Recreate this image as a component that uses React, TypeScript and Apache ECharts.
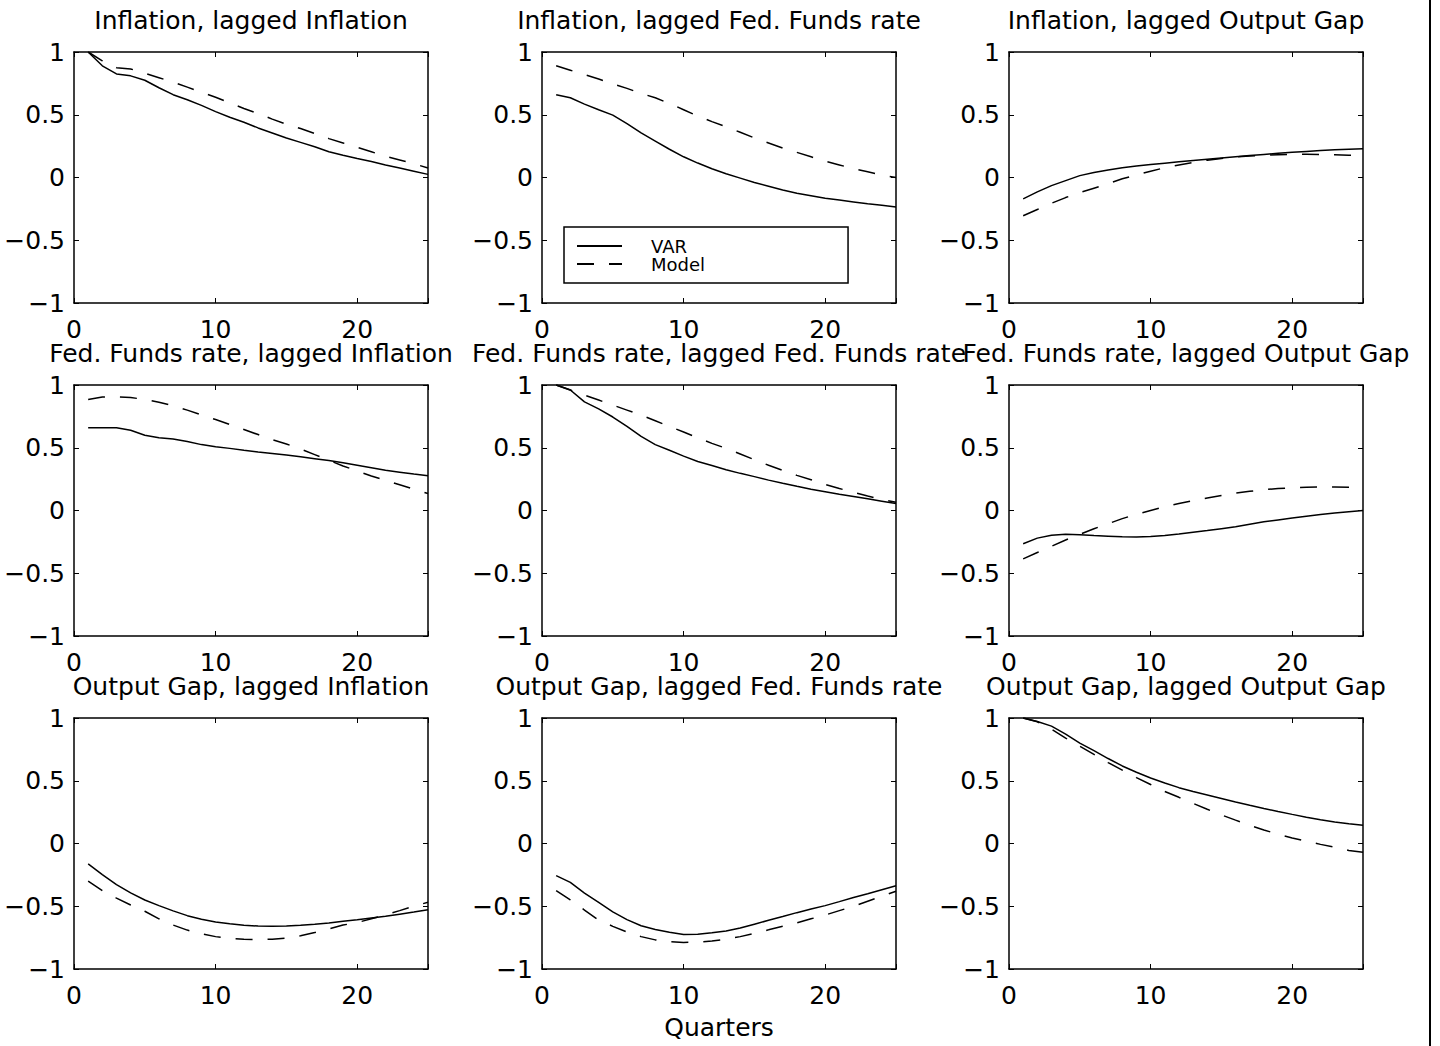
import React, { useEffect, useRef } from 'react';
import * as echarts from 'echarts';

const FONT = 'DejaVu Sans';

const QUARTERS = [1, 2, 3, 4, 5, 6, 7, 8, 9, 10, 11, 12, 13, 14, 15, 16, 17, 18, 19, 20, 21, 22, 23, 24, 25];

const TITLES = [
  'Inflation, lagged Inflation',
  'Inflation, lagged Fed. Funds rate',
  'Inflation, lagged Output Gap',
  'Fed. Funds rate, lagged Inflation',
  'Fed. Funds rate, lagged Fed. Funds rate',
  'Fed. Funds rate, lagged Output Gap',
  'Output Gap, lagged Inflation',
  'Output Gap, lagged Fed. Funds rate',
  'Output Gap, lagged Output Gap',
];

const X_TICKS = [0, 10, 20];
const Y_TICKS = [-1, -0.5, 0, 0.5, 1];

// Inflation, lagged Inflation
const VAR_INF_INF = [1.0, 0.89, 0.825, 0.81, 0.775, 0.715, 0.66, 0.62, 0.575, 0.525, 0.48, 0.44, 0.395, 0.355, 0.315, 0.28, 0.245, 0.205, 0.178, 0.152, 0.127, 0.1, 0.075, 0.05, 0.025];
const MODEL_INF_INF = [1.0, 0.93, 0.875, 0.865, 0.83, 0.795, 0.76, 0.72, 0.68, 0.64, 0.595, 0.55, 0.51, 0.465, 0.425, 0.39, 0.35, 0.31, 0.275, 0.24, 0.205, 0.17, 0.14, 0.11, 0.075];
// Inflation, lagged Fed. Funds rate
const VAR_INF_FFR = [0.66, 0.635, 0.585, 0.54, 0.497, 0.43, 0.355, 0.29, 0.225, 0.165, 0.115, 0.07, 0.03, -0.005, -0.04, -0.07, -0.1, -0.125, -0.145, -0.165, -0.18, -0.195, -0.21, -0.222, -0.235];
const MODEL_INF_FFR = [0.89, 0.855, 0.82, 0.785, 0.745, 0.71, 0.67, 0.635, 0.59, 0.54, 0.49, 0.445, 0.405, 0.36, 0.315, 0.275, 0.235, 0.2, 0.165, 0.13, 0.1, 0.07, 0.045, 0.02, 0.0];
// Inflation, lagged Output Gap
const VAR_INF_OG = [-0.17, -0.115, -0.065, -0.025, 0.015, 0.04, 0.06, 0.078, 0.092, 0.103, 0.114, 0.125, 0.135, 0.145, 0.155, 0.165, 0.175, 0.184, 0.193, 0.201, 0.208, 0.215, 0.221, 0.226, 0.23];
const MODEL_INF_OG = [-0.305, -0.255, -0.205, -0.16, -0.12, -0.085, -0.05, -0.01, 0.02, 0.05, 0.078, 0.1, 0.12, 0.138, 0.152, 0.163, 0.172, 0.178, 0.182, 0.185, 0.185, 0.183, 0.181, 0.178, 0.175];
// Fed. Funds rate, lagged Inflation
const VAR_FFR_INF = [0.66, 0.66, 0.66, 0.64, 0.6, 0.58, 0.57, 0.55, 0.525, 0.508, 0.495, 0.48, 0.467, 0.455, 0.442, 0.428, 0.413, 0.398, 0.38, 0.36, 0.34, 0.32, 0.305, 0.29, 0.276];
const MODEL_FFR_INF = [0.885, 0.905, 0.905, 0.9, 0.885, 0.862, 0.835, 0.8, 0.762, 0.725, 0.685, 0.645, 0.605, 0.565, 0.53, 0.49, 0.445, 0.4, 0.355, 0.315, 0.275, 0.24, 0.205, 0.17, 0.135];
// Fed. Funds rate, lagged Fed. Funds rate
const VAR_FFR_FFR = [1.0, 0.96, 0.865, 0.81, 0.745, 0.67, 0.59, 0.525, 0.48, 0.433, 0.39, 0.358, 0.325, 0.296, 0.27, 0.242, 0.217, 0.193, 0.17, 0.15, 0.13, 0.112, 0.093, 0.074, 0.055];
const MODEL_FFR_FFR = [1.0, 0.96, 0.92, 0.88, 0.84, 0.8, 0.76, 0.715, 0.67, 0.625, 0.58, 0.535, 0.495, 0.45, 0.405, 0.36, 0.32, 0.28, 0.245, 0.207, 0.175, 0.145, 0.115, 0.088, 0.065];
// Fed. Funds rate, lagged Output Gap
const VAR_FFR_OG = [-0.265, -0.22, -0.197, -0.19, -0.193, -0.2, -0.205, -0.21, -0.212, -0.208, -0.2, -0.188, -0.174, -0.16, -0.145, -0.13, -0.11, -0.09, -0.075, -0.06, -0.045, -0.032, -0.02, -0.01, 0.0];
const MODEL_FFR_OG = [-0.385, -0.335, -0.285, -0.235, -0.19, -0.145, -0.105, -0.065, -0.03, 0.0, 0.03, 0.055, 0.078, 0.1, 0.12, 0.138, 0.153, 0.166, 0.175, 0.18, 0.185, 0.188, 0.188, 0.185, 0.182];
// Output Gap, lagged Inflation
const VAR_OG_INF = [-0.163, -0.248, -0.328, -0.394, -0.45, -0.495, -0.537, -0.575, -0.603, -0.625, -0.64, -0.652, -0.658, -0.66, -0.658, -0.652, -0.643, -0.633, -0.62, -0.607, -0.593, -0.58, -0.563, -0.546, -0.527];
const MODEL_OG_INF = [-0.3, -0.375, -0.435, -0.49, -0.54, -0.6, -0.65, -0.69, -0.72, -0.742, -0.755, -0.763, -0.765, -0.762, -0.753, -0.735, -0.71, -0.68, -0.65, -0.63, -0.6, -0.568, -0.535, -0.5, -0.468];
// Output Gap, lagged Fed. Funds rate
const VAR_OG_FFR = [-0.256, -0.31, -0.395, -0.47, -0.545, -0.607, -0.655, -0.685, -0.708, -0.725, -0.724, -0.712, -0.697, -0.674, -0.643, -0.612, -0.582, -0.551, -0.522, -0.495, -0.463, -0.43, -0.4, -0.368, -0.336];
const MODEL_OG_FFR = [-0.376, -0.45, -0.53, -0.61, -0.66, -0.705, -0.742, -0.768, -0.782, -0.788, -0.786, -0.777, -0.762, -0.742, -0.715, -0.688, -0.66, -0.632, -0.6, -0.57, -0.535, -0.5, -0.46, -0.42, -0.381];
// Output Gap, lagged Output Gap
const VAR_OG_OG = [1.0, 0.972, 0.935, 0.872, 0.8, 0.74, 0.677, 0.618, 0.568, 0.522, 0.482, 0.445, 0.414, 0.387, 0.359, 0.331, 0.304, 0.279, 0.255, 0.232, 0.21, 0.19, 0.172, 0.158, 0.145];
const MODEL_OG_OG = [1.0, 0.97, 0.91, 0.84, 0.775, 0.71, 0.645, 0.585, 0.525, 0.47, 0.415, 0.368, 0.32, 0.273, 0.228, 0.186, 0.145, 0.108, 0.074, 0.044, 0.018, -0.007, -0.03, -0.055, -0.07];

const VAR_LIST = [VAR_INF_INF, VAR_INF_FFR, VAR_INF_OG, VAR_FFR_INF, VAR_FFR_FFR, VAR_FFR_OG, VAR_OG_INF, VAR_OG_FFR, VAR_OG_OG];
const MODEL_LIST = [MODEL_INF_INF, MODEL_INF_FFR, MODEL_INF_OG, MODEL_FFR_INF, MODEL_FFR_FFR, MODEL_FFR_OG, MODEL_OG_INF, MODEL_OG_FFR, MODEL_OG_OG];

const LEGEND_NAMES = ['VAR', 'Model'];
const X_NAME = 'Quarters';

// layout
const COL_LEFT = [74, 542, 1009];
const ROW_TOP = [52, 385, 718];
const PW = 354;
const PH = 251;

const fmtY = (v: number) => (Y_TICKS.indexOf(v) < 0 ? '' : v < 0 ? '\u2212' + String(Math.abs(v)) : String(v));
const fmtX = (v: number) => (X_TICKS.indexOf(v) >= 0 ? String(v) : '');

function buildOption() {
  const grids: any[] = [];
  const xAxes: any[] = [];
  const yAxes: any[] = [];
  const series: any[] = [];
  const titles: any[] = [];

  const axisLine = { show: true, onZero: false, lineStyle: { color: '#000', width: 1.5 } };
  const axisTick = { show: true, inside: true, length: 5, lineStyle: { color: '#000', width: 1 } };
  const labelStyle = { color: '#000', fontFamily: FONT, fontSize: 25, lineHeight: 25 };

  for (let i = 0; i < 9; i++) {
    const r = Math.floor(i / 3);
    const c = i % 3;
    const left = COL_LEFT[c];
    const top = ROW_TOP[r];
    grids.push({ left, top, width: PW, height: PH, containLabel: false, show: false });

    const bottomX: any = {
      type: 'value', gridIndex: i, position: 'bottom', min: 0, max: 25, interval: 10,
      axisLine, axisTick,
      axisLabel: { ...labelStyle, margin: 14, formatter: fmtX },
      splitLine: { show: false },
    };
    if (i === 7) {
      bottomX.name = X_NAME;
      bottomX.nameLocation = 'middle';
      bottomX.nameGap = 46;
      bottomX.nameTextStyle = { color: '#000', fontFamily: FONT, fontSize: 25, lineHeight: 25 };
    }
    xAxes.push(bottomX);
    xAxes.push({
      type: 'value', gridIndex: i, position: 'top', min: 0, max: 25, interval: 10,
      axisLine, axisTick, axisLabel: { show: false }, splitLine: { show: false },
    });
    yAxes.push({
      type: 'value', gridIndex: i, position: 'left', min: -1, max: 1, interval: 0.5,
      axisLine, axisTick,
      axisLabel: { ...labelStyle, margin: 9, formatter: fmtY },
      splitLine: { show: false },
    });
    yAxes.push({
      type: 'value', gridIndex: i, position: 'right', min: -1, max: 1, interval: 0.5,
      axisLine, axisTick, axisLabel: { show: false }, splitLine: { show: false },
    });

    titles.push({
      text: TITLES[i],
      left: left + PW / 2,
      top: top - 32,
      textAlign: 'center',
      textVerticalAlign: 'middle',
      padding: 0,
      textStyle: { color: '#000', fontFamily: FONT, fontSize: 25, fontWeight: 'normal' },
    });

    series.push({
      type: 'line', name: LEGEND_NAMES[0], xAxisIndex: 2 * i, yAxisIndex: 2 * i,
      data: QUARTERS.map((q, k) => [q, VAR_LIST[i][k]]),
      symbol: 'none', showSymbol: false, silent: true,
      lineStyle: { color: '#000', width: 1.5, type: 'solid' },
      itemStyle: { color: '#000' },
    });
    series.push({
      type: 'line', name: LEGEND_NAMES[1], xAxisIndex: 2 * i, yAxisIndex: 2 * i,
      data: QUARTERS.map((q, k) => [q, MODEL_LIST[i][k]]),
      symbol: 'none', showSymbol: false, silent: true,
      lineStyle: { color: '#000', width: 1.5, type: [17, 15] },
      itemStyle: { color: '#000' },
    });
  }

  return {
    animation: false,
    backgroundColor: '#fff',
    title: titles,
    grid: grids,
    xAxis: xAxes,
    yAxis: yAxes,
    series,
    legend: {
      data: LEGEND_NAMES,
      orient: 'vertical',
      left: 564,
      top: 227,
      itemWidth: 45,
      itemHeight: 18,
      itemGap: 0,
      padding: [10, 143, 10, 12],
      borderColor: '#000',
      borderWidth: 1.5,
      backgroundColor: '#fff',
      selectedMode: false,
      itemStyle: { opacity: 0, borderWidth: 0 },
      textStyle: { color: '#000', fontFamily: FONT, fontSize: 18, padding: [0, 0, 0, 24] },
    },
    graphic: [
      { type: 'rect', shape: { x: 1429, y: 0, width: 2, height: 1046 }, style: { fill: '#000' }, silent: true },
    ],
  };
}

export default function App() {
  const ref = useRef<HTMLDivElement>(null);
  useEffect(() => {
    if (!ref.current) return;
    const chart = echarts.init(ref.current, undefined, { renderer: 'svg' });
    chart.setOption(buildOption() as any);
    return () => chart.dispose();
  }, []);
  return (
    <div
      ref={ref}
      style={{ position: 'absolute', left: 0, top: 0, width: 1440, height: 1046, background: '#fff' }}
    />
  );
}
